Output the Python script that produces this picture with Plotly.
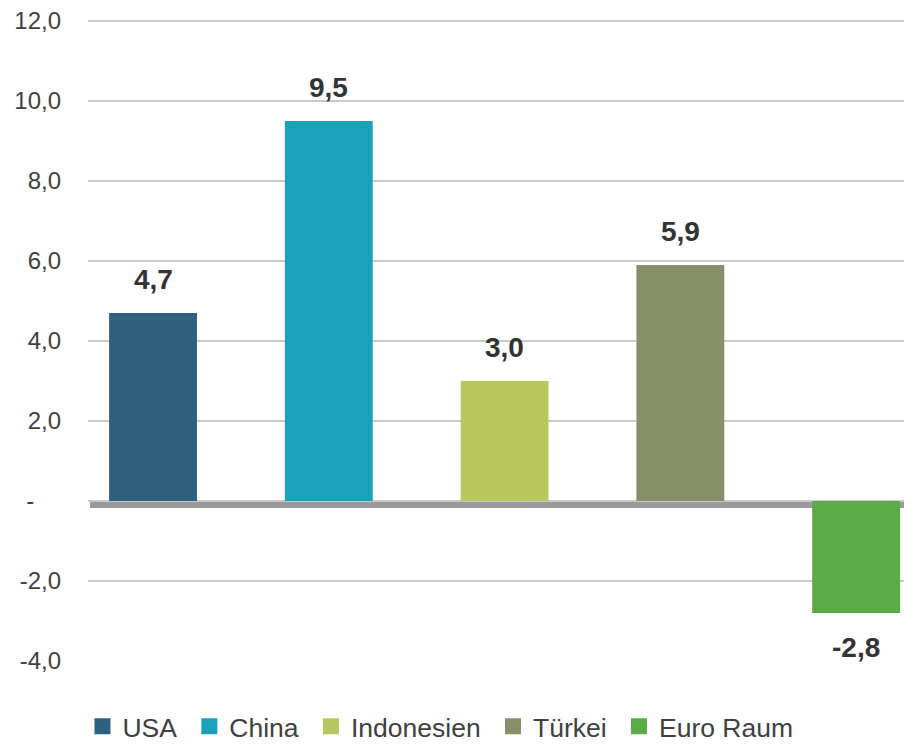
import plotly.graph_objects as go

# Werte aus der Grafik
laender = ['USA', 'China', 'Indonesien', 'Türkei', 'Euro Raum']
werte = [4.7, 9.5, 3.0, 5.9, -2.8]
farben = ['#2e617e', '#19a2ba', '#b8c75e', '#878f69', '#5aab47']

y_ticks = [-4, -2, 0, 2, 4, 6, 8, 10, 12]
y_ticktext = ['-4,0', '-2,0', '-\u00a0\u00a0\u00a0\u00a0', '2,0', '4,0', '6,0', '8,0', '10,0', '12,0']

FONT = 'Arial, Liberation Sans, sans-serif'

fig = go.Figure()
for name, val, col in zip(laender, werte, farben):
    fig.add_trace(go.Bar(x=[name], y=[val], name=name, showlegend=False,
                         marker=dict(color=col, line=dict(width=0)),
                         width=0.5))

# Legende mit grossen Quadraten
for i, (name, col) in enumerate(zip(laender, farben)):
    label = name if i == len(laender) - 1 else name + '\u00a0'
    fig.add_trace(go.Scatter(x=[None], y=[None], mode='markers', name=label,
                             marker=dict(symbol='square', size=20, color=col)))

# Datenbeschriftungen
for name, val in zip(laender, werte):
    fig.add_annotation(x=name, y=val,
                       text=f'{val:.1f}'.replace('.', ','),
                       showarrow=False,
                       yanchor='middle',
                       yshift=34 if val >= 0 else -34,
                       font=dict(family=FONT, size=28, color='#333333', weight='bold'))

# dicke Nulllinie mit Schatten
fig.add_shape(type='rect', xref='paper', x0=0.0025, x1=1,
              yref='y', ysizemode='pixel', yanchor=0, y0=-1, y1=-7,
              fillcolor='#9a9a9a', line=dict(width=0), layer='between')

# Seite hat 8px Rand -> Figur 8px kleiner
fig.update_layout(
    width=904, height=736,
    margin=dict(l=80, r=0, t=11, b=83, autoexpand=False),
    paper_bgcolor='white', plot_bgcolor='white',
    barmode='overlay',
    font=dict(family=FONT, color='#404040'),
    showlegend=True,
    legend=dict(orientation='h', x=-0.0067, xanchor='left',
                y=-0.102, yanchor='middle',
                font=dict(family=FONT, size=26.5, color='#404040'),
                itemwidth=30),
    xaxis=dict(range=[-0.37, 4.318], showticklabels=False,
               showgrid=False, zeroline=False, showline=False),
    yaxis=dict(range=[-4, 12.05], tickvals=y_ticks, ticktext=y_ticktext,
               showgrid=True, gridcolor='#c8c8c8', gridwidth=1.5,
               zeroline=False, showline=False, ticks='',
               ticklabelstandoff=26, ticklabeloverflow='allow',
               tickfont=dict(family=FONT, size=24, color='#404040')),
)

fig.write_html("out.html")
